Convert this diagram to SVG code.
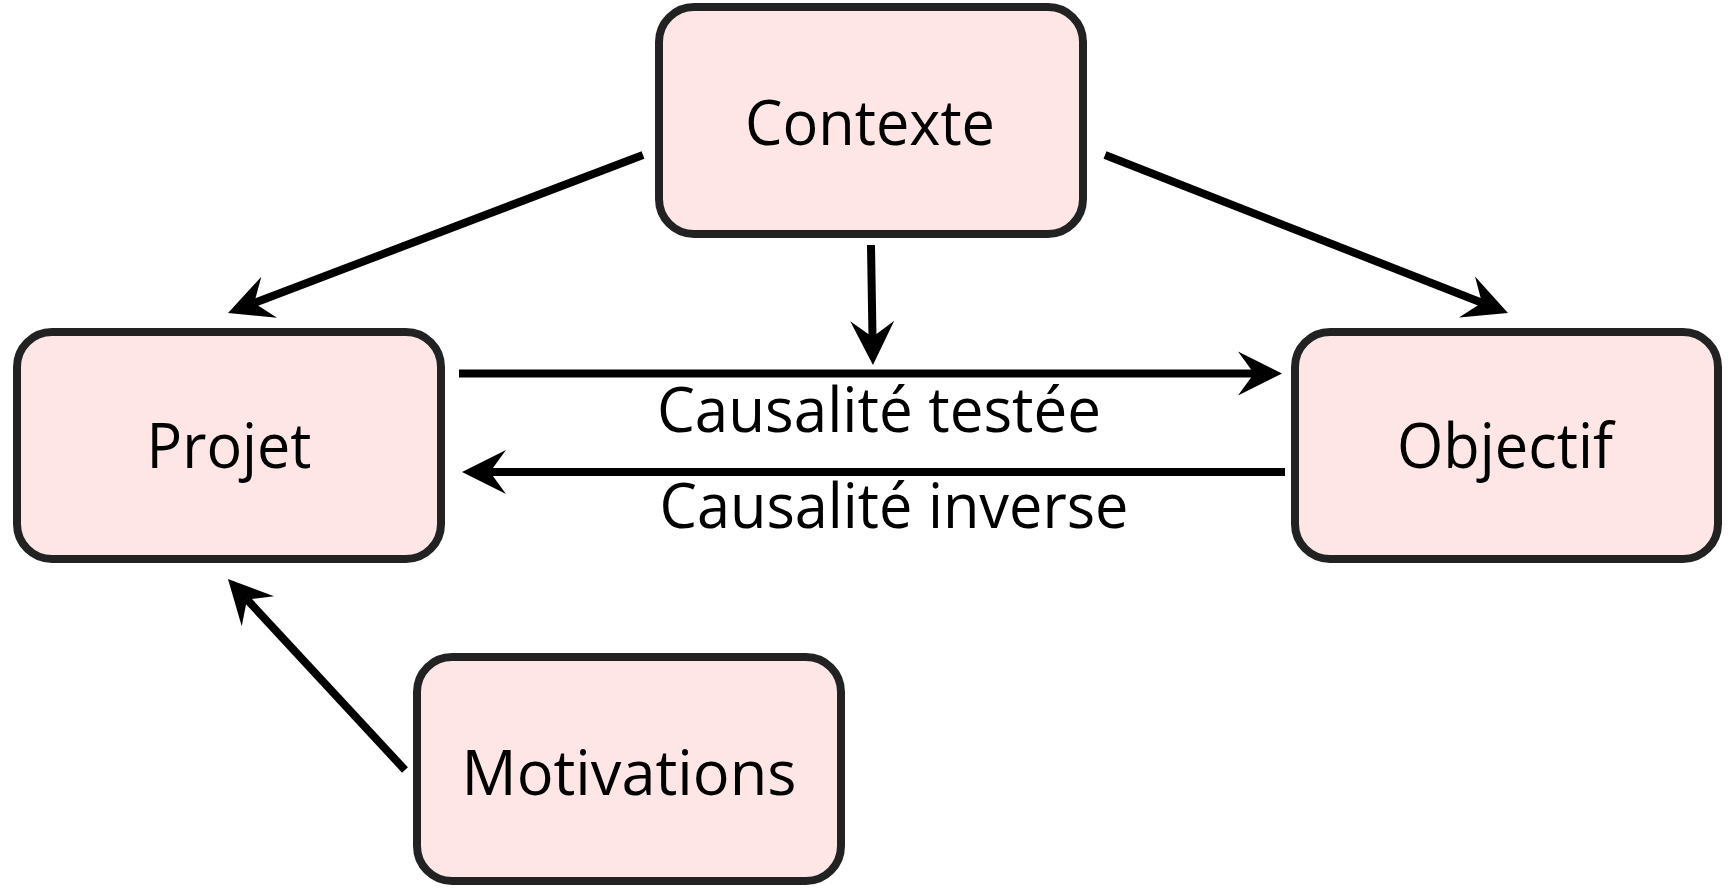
<svg xmlns="http://www.w3.org/2000/svg" width="1729" height="888" viewBox="0 0 1729 888">
<defs>
<style>
.node rect{fill:#fee6e6;stroke:#222222;stroke-width:8}
.lbl{font-family:"Open Sans","Noto Sans","Liberation Sans",sans-serif;font-size:62px;fill:#000;text-anchor:middle}
.edge{stroke:#000;stroke-width:8;fill:none;marker-end:url(#ah)}
</style>
<marker id="ah" markerUnits="userSpaceOnUse" orient="auto" refX="0" refY="0" markerWidth="60" markerHeight="60" overflow="visible">
<path d="M28,0 L-16,-22 L0,0 L-16,22 Z" fill="#000"/>
</marker>
</defs>
<rect width="1729" height="888" fill="#fff"/>
<g id="connectors">
<line class="edge" x1="643" y1="155" x2="254.2" y2="303"/>
<line class="edge" x1="1105" y1="155" x2="1481.9" y2="302.8"/>
<line class="edge" x1="871" y1="245" x2="872.5" y2="337"/>
<line class="edge" x1="459" y1="373.5" x2="1254" y2="373.5"/>
<line class="edge" x1="1285" y1="472" x2="490" y2="472"/>
<line class="edge" x1="405" y1="770" x2="247" y2="599.5"/>
<text class="lbl" x="879" y="432" textLength="444" lengthAdjust="spacingAndGlyphs">Causalité testée</text>
<text class="lbl" x="894" y="528" textLength="469" lengthAdjust="spacingAndGlyphs">Causalité inverse</text>
</g>
<g id="contexte" class="node">
<rect x="659" y="7" width="424" height="227" rx="35"/>
<text class="lbl" x="870" y="145" textLength="250" lengthAdjust="spacingAndGlyphs">Contexte</text>
</g>
<g id="projet" class="node">
<rect x="17" y="332" width="424" height="227" rx="35"/>
<text class="lbl" x="229" y="468" textLength="165" lengthAdjust="spacingAndGlyphs">Projet</text>
</g>
<g id="objectif" class="node">
<rect x="1295" y="332" width="423" height="227" rx="35"/>
<text class="lbl" x="1505" y="468" textLength="216" lengthAdjust="spacingAndGlyphs">Objectif</text>
</g>
<g id="motivations" class="node">
<rect x="417" y="657" width="424" height="224" rx="35"/>
<text class="lbl" x="629" y="795" textLength="335" lengthAdjust="spacingAndGlyphs">Motivations</text>
</g>
</svg>
